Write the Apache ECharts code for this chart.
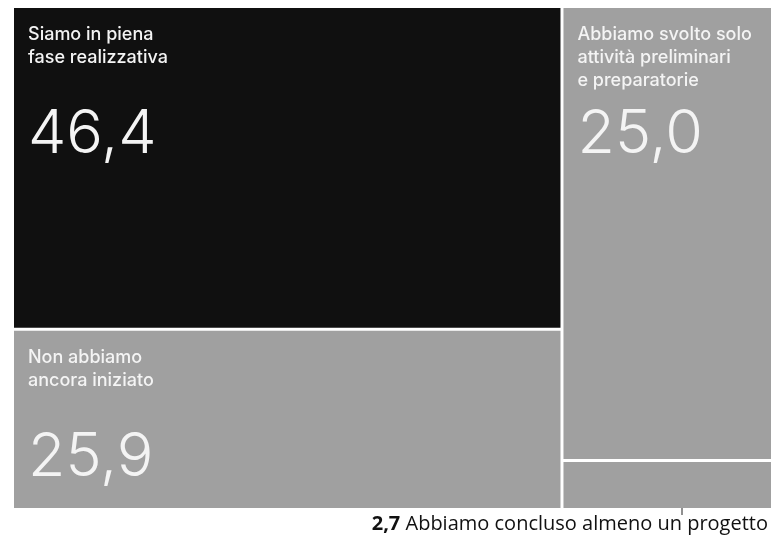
<!DOCTYPE html>
<html><head><meta charset="utf-8">
<script src="https://cdn.jsdelivr.net/npm/echarts@6/dist/echarts.min.js"></script>
<style>html,body{margin:0;padding:0;background:#fff}#c{width:771px;height:545px}</style>
</head><body><div id="c"></div>
<script>
const categories = [
  ["Siamo in piena", "fase realizzativa"],
  ["Non abbiamo", "ancora iniziato"],
  ["Abbiamo svolto solo", "attività preliminari", "e preparatorie"],
  ["Abbiamo concluso almeno un progetto"]
];
const values = [46.4, 25.9, 25.0, 2.7];
const colors = ['#101010', '#a0a0a0', '#a0a0a0', '#a0a0a0'];
const fmt = v => v.toFixed(1).replace('.', ',');

const data = values.map((v, i) => {
  const lines = categories[i].slice();
  while (lines.length < 3) lines.push('');
  return {
    name: categories[i].join(' '),
    value: v,
    itemStyle: { color: colors[i] },
    label: i === 3 ? { show: false } : {
      formatter: lines.map(l => '{t|' + l + '}').join('\n') + '\n{v|' + fmt(v) + '}'
    }
  };
});

const chart = echarts.init(document.getElementById('c'), null, { renderer: 'canvas' });
chart.setOption({
  animation: false,
  series: [{
    type: 'treemap',
    left: 14, top: 8, right: 0, bottom: 37,
    roam: false, nodeClick: false,
    breadcrumb: { show: false },
    squareRatio: 0.5 * (1 + Math.sqrt(5)),
    itemStyle: { gapWidth: 3, borderWidth: 0, borderColor: '#fff' },
    levels: [{ itemStyle: { gapWidth: 3, borderWidth: 0, borderColor: '#fff' } }],
    label: {
      show: true,
      position: [9, 10],
      overflow: 'none',
      rich: {
        t: { fontFamily: 'Inter', fontSize: 18, fontWeight: 500, color: '#f4f4f4', lineHeight: 23 },
        v: { fontFamily: 'Inter', fontSize: 61, fontWeight: 300, color: '#f4f4f4', lineHeight: 86 }
      }
    },
    data: data
  }],
  graphic: [
    { type: 'line', shape: { x1: 682, y1: 497, x2: 682, y2: 515 }, style: { stroke: '#222', lineWidth: 1 } },
    { type: 'text', right: 3, top: 514, style: {
        text: '{b|' + fmt(values[3]) + '} ' + categories[3][0],
        fontFamily: 'Open Sans', fontSize: 20, fill: '#111',
        rich: { b: { fontFamily: 'Open Sans', fontSize: 20, fontWeight: 'bold', fill: '#111' } }
    } }
  ]
});
</script></body></html>
